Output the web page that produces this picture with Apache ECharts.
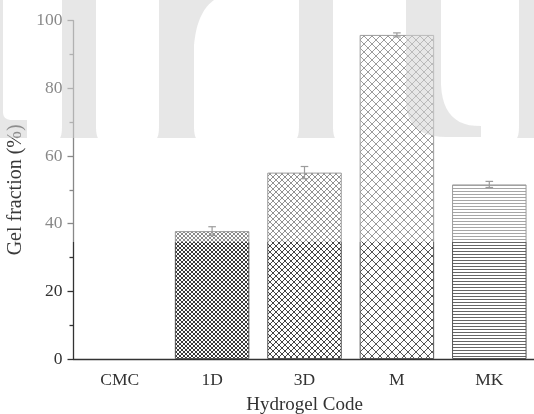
<!DOCTYPE html>
<html><head><meta charset="utf-8">
<script src="https://cdn.jsdelivr.net/npm/echarts@6/dist/echarts.min.js"></script>
<style>html,body{margin:0;padding:0;background:#fff}#c{width:534px;height:414px}</style>
</head><body><div id="c"></div>
<script>
const categories = ['CMC', '1D', '3D', 'M', 'MK'];
const gelFraction = [0, 37.8, 55.1, 95.8, 51.6];
const gelError = [0, 1.3, 1.8, 0.6, 0.9];
const yTicks = [0, 20, 40, 60, 80, 100];

function pattern(size, color, kind) {
  const c = document.createElement('canvas');
  c.width = size; c.height = size;
  const g = c.getContext('2d');
  g.fillStyle = '#fff'; g.fillRect(0, 0, size, size);
  g.strokeStyle = color; g.lineWidth = 1;
  g.beginPath();
  if (kind === 'cross') {
    for (let k = -1; k <= 1; k++) {
      g.moveTo(-1 + k * size, -1); g.lineTo(size + 1 + k * size, size + 1);
      g.moveTo(size + 1 + k * size, -1); g.lineTo(-1 + k * size, size + 1);
    }
  } else {
    g.moveTo(0, size - 0.5); g.lineTo(size, size - 0.5);
  }
  g.stroke();
  return { image: c, repeat: 'repeat' };
}
const fills = [
  pattern(4, '#444', 'cross'),
  pattern(4, '#3a3a3a', 'cross'),
  pattern(6, '#444', 'cross'),
  pattern(8, '#555', 'cross'),
  pattern(3, '#666', 'h')
];

// build polygon points; segments: ['L',x,y] or ['Q',cx,cy,x,y]
function poly(start, segs) {
  const pts = [start];
  let cur = start;
  segs.forEach(s => {
    if (s[0] === 'L') { cur = [s[1], s[2]]; pts.push(cur); }
    else {
      const p0 = cur, q = [s[1], s[2]], p1 = [s[3], s[4]];
      for (let t = 1; t <= 12; t++) {
        const u = t / 12;
        pts.push([(1-u)*(1-u)*p0[0] + 2*(1-u)*u*q[0] + u*u*p1[0], (1-u)*(1-u)*p0[1] + 2*(1-u)*u*q[1] + u*u*p1[1]]);
      }
      cur = p1;
    }
  });
  return pts;
}
const wm = 'rgba(212,212,212,0.55)';
function wmShape(points) {
  return { type: 'polygon', z: 101, silent: true, shape: { points: points }, style: { fill: wm } };
}
const stem = (x0, x1) => poly([x0, 0], [['L', x1, 0], ['L', x1, 126], ['Q', x1, 135, x1 + 2, 138], ['L', x0 - 2, 138], ['Q', x0, 135, x0, 126]]);

const serif = '"Liberation Serif", "DejaVu Serif", serif';
const chart = echarts.init(document.getElementById('c'));
chart.setOption({
  animation: false,
  grid: { left: 73.5, top: 20.7, width: 462, height: 338.3, containLabel: false, outerBoundsMode: 'none' },
  xAxis: [{
    type: 'category', data: categories, position: 'bottom',
    axisLine: { lineStyle: { color: '#333', width: 1.3 } },
    axisTick: { alignWithLabel: true, length: 6, lineStyle: { color: '#333', width: 1.3 } },
    axisLabel: { color: '#333', fontFamily: serif, fontSize: 17.5, margin: 12 },
    name: 'Hydrogel Code', nameLocation: 'middle', nameGap: 37,
    nameTextStyle: { color: '#333', fontFamily: serif, fontSize: 19 }
  }, {
    type: 'category', data: categories, position: 'bottom',
    axisLine: { show: false },
    axisTick: { length: 3, lineStyle: { color: '#333', width: 1.3 } },
    axisLabel: { show: false }
  }],
  yAxis: {
    type: 'value', min: yTicks[0], max: yTicks[yTicks.length - 1], interval: 20,
    axisLine: { show: true, lineStyle: { color: '#333', width: 1.3 } },
    axisTick: { show: true, length: 6, lineStyle: { color: '#333', width: 1.3 } },
    minorTick: { show: true, splitNumber: 2, length: 4, lineStyle: { color: '#333', width: 1.3 } },
    splitLine: { show: false },
    axisLabel: { color: '#333', fontFamily: serif, fontSize: 17.5, margin: 11 },
    name: 'Gel fraction (%)', nameLocation: 'middle', nameGap: 42,
    nameTextStyle: { color: '#3a3a3a', fontFamily: serif, fontSize: 20 }
  },
  series: [{
    type: 'bar', barWidth: 74.5,
    data: gelFraction.map((v, i) => ({ value: v, itemStyle: { color: fills[i], borderColor: '#555', borderWidth: v ? 1 : 0 } }))
  }, {
    type: 'custom', z: 5,
    data: categories.map((c, i) => [i, gelFraction[i], gelError[i]]),
    renderItem: function (params, api) {
      const e = api.value(2);
      if (!e) return null;
      const x = api.value(0), v = api.value(1);
      const t = api.coord([x, v + e]), b = api.coord([x, v - e]);
      const w = 3.8, st = { stroke: '#555', lineWidth: 1.2 };
      return { type: 'group', children: [
        { type: 'line', shape: { x1: t[0], y1: t[1], x2: b[0], y2: b[1] }, style: st },
        { type: 'line', shape: { x1: t[0] - w, y1: t[1], x2: t[0] + w, y2: t[1] }, style: st },
        { type: 'line', shape: { x1: b[0] - w, y1: b[1], x2: b[0] + w, y2: b[1] }, style: st }
      ] };
    }
  }],
  graphic: [
    { type: 'rect', z: 100, silent: true, shape: { x: 30, y: 0, width: 504, height: 242 }, style: { fill: 'rgba(255,255,255,0.42)' } },
    wmShape(poly([0, 0], [['L', 3, 0], ['L', 3, 112], ['Q', 3, 120, 12, 120], ['L', 27, 120], ['L', 27, 138], ['L', 0, 138]])),
    wmShape(stem(62, 96)),
    wmShape(poly([159, 0], [['L', 214, 0], ['Q', 197, 12, 194, 45], ['L', 194, 126], ['Q', 194, 135, 196, 138], ['L', 157, 138], ['Q', 159, 135, 159, 126]])),
    wmShape(stem(299, 333)),
    wmShape(poly([406, 0], [['L', 441, 0], ['L', 441, 85], ['Q', 443, 127, 481, 126], ['L', 481, 137], ['L', 446, 137], ['Q', 406, 137, 406, 100]])),
    wmShape(poly([519, 0], [['L', 534, 0], ['L', 534, 138], ['L', 517, 138], ['Q', 519, 135, 519, 126]]))
  ]
});
</script></body></html>
